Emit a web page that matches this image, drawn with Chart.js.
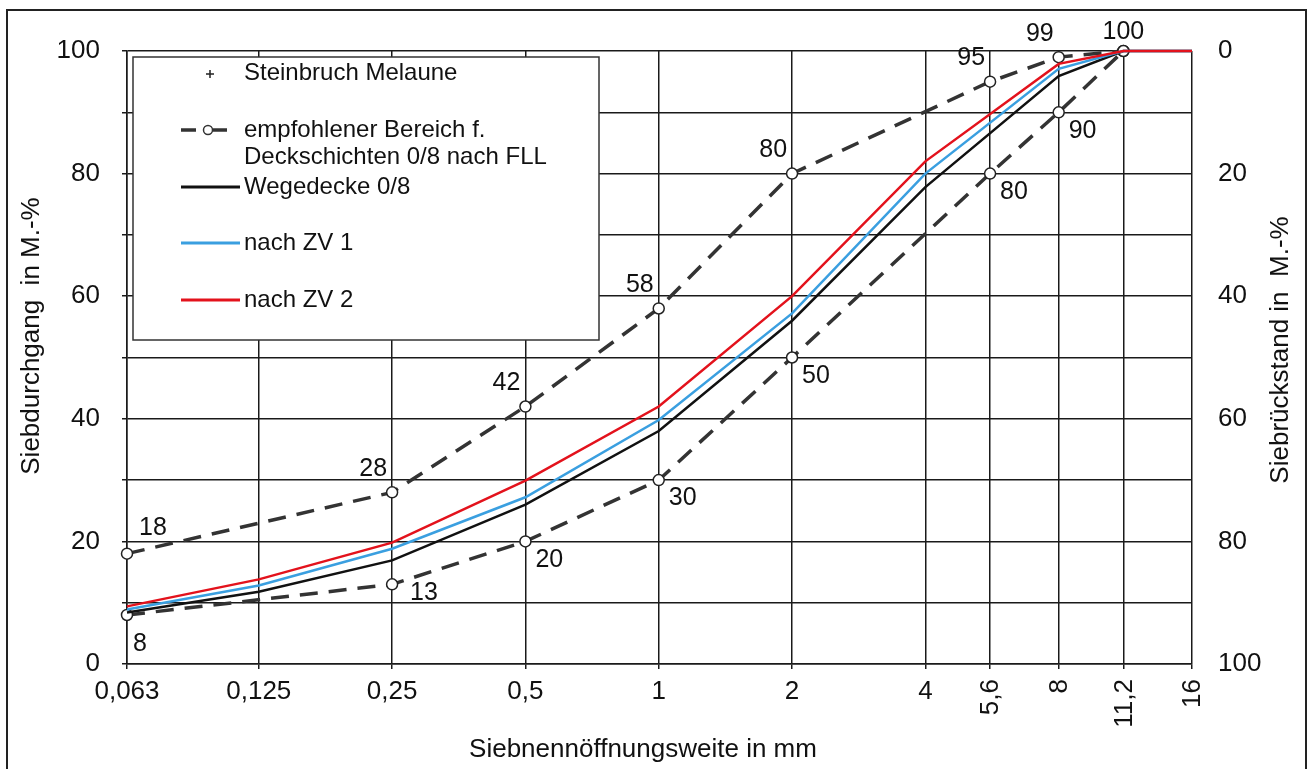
<!DOCTYPE html>
<html>
<head>
<meta charset="utf-8">
<script src="https://cdn.jsdelivr.net/npm/chart.js@4.4.0/dist/chart.umd.min.js"></script>
<style>
  html, body { margin: 0; padding: 0; background: #fff; }
  #wrap { width: 1312px; height: 769px; }
</style>
</head>
<body>
<div id="wrap"><canvas id="sieve__graph"></canvas></div>
<script>
// sieve sizes (mm) and their printed labels
const sieveSizes = [0.063, 0.125, 0.25, 0.5, 1, 2, 4, 5.6, 8, 11.2, 16];
const sieveLabels = ['0,063', '0,125', '0,25', '0,5', '1', '2', '4', '5,6', '8', '11,2', '16'];
const rotatedLabels = ['5,6', '8', '11,2', '16'];

// FLL recommended range (upper / lower limit)
const boundSizes = [0.063, 0.25, 0.5, 1, 2, 5.6, 8, 11.2];
const upperBound = [18, 28, 42, 58, 80, 95, 99, 100];
const lowerBound = [8, 13, 20, 30, 50, 80, 90, 100];

// measured grading curves
const curveSizes = [0.063, 0.125, 0.25, 0.5, 1, 2, 4, 8, 11.2, 16];
const wegedecke = [8.4, 11.8, 16.9, 26, 38, 56, 77.8, 95.9, 100, 100];
const nachZV1 = [8.9, 12.8, 18.8, 27.2, 39.8, 57.2, 80, 97.1, 100, 100];
const nachZV2 = [9.4, 13.8, 19.8, 29.9, 42, 60, 82, 97.9, 100, 100];
const steinbruch = [];

const yTicksLeft = [0, 20, 40, 60, 80, 100];

const FONT = '"Liberation Sans", Arial, sans-serif';
const pairs = (xs, ys) => ys.map((v, i) => ({ x: xs[i], y: v }));

const decor = {
    id: 'decor',
    afterDraw(chart) {
        const { ctx, chartArea: a, scales: { x, y } } = chart;
        ctx.save();

        // outer frame
        ctx.strokeStyle = '#222';
        ctx.lineWidth = 2;
        ctx.beginPath();
        ctx.moveTo(7, 769); ctx.lineTo(7, 10); ctx.lineTo(1306, 10); ctx.lineTo(1306, 769);
        ctx.stroke();

        ctx.fillStyle = '#111';

        // x tick labels, the coarse ones stand upright
        ctx.font = '26px ' + FONT;
        sieveSizes.forEach((v, i) => {
            const px = x.getPixelForValue(v);
            const lbl = sieveLabels[i];
            if (rotatedLabels.includes(lbl)) {
                ctx.save();
                ctx.translate(px, a.bottom + 15);
                ctx.rotate(-Math.PI / 2);
                ctx.textAlign = 'right';
                ctx.textBaseline = 'middle';
                ctx.fillText(lbl, 0, 1);
                ctx.restore();
            } else {
                ctx.textAlign = 'center';
                ctx.textBaseline = 'top';
                ctx.fillText(lbl, px, a.bottom + 15);
            }
        });

        // axis titles
        ctx.textAlign = 'center';
        ctx.textBaseline = 'middle';
        ctx.fillText('Siebnennöffnungsweite in mm', 643, 750);
        ctx.save();
        ctx.translate(32, 336);
        ctx.rotate(-Math.PI / 2);
        ctx.fillText('Siebdurchgang  in M.-%', 0, 0);
        ctx.restore();
        ctx.save();
        ctx.translate(1281, 350);
        ctx.rotate(-Math.PI / 2);
        ctx.fillText('Siebrückstand in  M.-%', 0, 0);
        ctx.restore();

        // values at the range markers
        ctx.font = '25px ' + FONT;
        boundSizes.forEach((v, i) => {
            const px = x.getPixelForValue(v);
            const pu = y.getPixelForValue(upperBound[i]);
            const pl = y.getPixelForValue(lowerBound[i]);
            ctx.textBaseline = 'bottom';
            if (i === 0) {
                ctx.textAlign = 'left';
                ctx.fillText(upperBound[i], px + 12, pu - 13);
            } else if (i === boundSizes.length - 1) {
                ctx.textAlign = 'center';
                ctx.fillText(upperBound[i], px, pu - 6);
            } else {
                ctx.textAlign = 'right';
                ctx.fillText(upperBound[i], px - 5, pu - 11);
            }
            if (i === boundSizes.length - 1) return;
            ctx.textAlign = 'left';
            ctx.textBaseline = 'top';
            if (i === 0) ctx.fillText(lowerBound[i], px + 6, pl + 17);
            else if (i === 1) ctx.fillText(lowerBound[i], px + 18, pl - 4);
            else ctx.fillText(lowerBound[i], px + 10, pl + 6);
        });

        // legend box
        ctx.fillStyle = '#fff';
        ctx.fillRect(133, 57, 466, 283);
        ctx.strokeStyle = '#333';
        ctx.lineWidth = 1.5;
        ctx.strokeRect(133, 57, 466, 283);

        ctx.fillStyle = '#111';
        ctx.font = '24px ' + FONT;
        ctx.textAlign = 'left';
        ctx.textBaseline = 'middle';
        const ds = chart.data.datasets;

        // + marker
        ctx.strokeStyle = '#222';
        ctx.lineWidth = 1.5;
        ctx.beginPath();
        ctx.moveTo(206, 74); ctx.lineTo(214, 74);
        ctx.moveTo(210, 70); ctx.lineTo(210, 78);
        ctx.stroke();
        ctx.fillText(ds[0].label, 244, 73);

        // dashed range symbol
        ctx.strokeStyle = '#333';
        ctx.lineWidth = 3.5;
        ctx.beginPath();
        ctx.moveTo(181, 130); ctx.lineTo(196, 130);
        ctx.moveTo(213, 130); ctx.lineTo(227, 130);
        ctx.stroke();
        ctx.lineWidth = 1.5;
        ctx.fillStyle = '#fff';
        ctx.beginPath();
        ctx.arc(208, 130, 4.5, 0, Math.PI * 2);
        ctx.fill();
        ctx.stroke();
        ctx.fillStyle = '#111';
        ctx.fillText('empfohlener Bereich f.', 244, 130);
        ctx.fillText('Deckschichten 0/8 nach FLL', 244, 157);

        [[3, 187], [4, 243], [5, 300]].forEach(([k, yy]) => {
            ctx.strokeStyle = ds[k].borderColor;
            ctx.lineWidth = 3;
            ctx.beginPath();
            ctx.moveTo(181, yy); ctx.lineTo(240, yy);
            ctx.stroke();
            ctx.fillText(ds[k].label, 244, yy);
        });

        ctx.restore();
    }
};

const rangePoint = {
    pointStyle: 'circle',
    pointRadius: 5.5,
    pointBackgroundColor: '#fff',
    pointBorderColor: '#222',
    pointBorderWidth: 1.5,
    clip: false,
};

new Chart(document.getElementById('sieve__graph'), {
    type: 'line',
    data: {
        datasets: [{
            label: 'Steinbruch Melaune',
            data: steinbruch,
            pointStyle: 'cross',
            borderColor: '#222',
            showLine: false,
        }, {
            label: 'empfohlener Bereich f. Deckschichten 0/8 nach FLL',
            data: pairs(boundSizes, upperBound),
            borderColor: '#333',
            borderWidth: 3.5,
            borderDash: [18, 11],
            order: 4,
            ...rangePoint,
        }, {
            label: 'untere Grenze',
            data: pairs(boundSizes, lowerBound),
            borderColor: '#333',
            borderWidth: 3.5,
            borderDash: [18, 11],
            order: 5,
            ...rangePoint,
        }, {
            label: 'Wegedecke 0/8',
            data: pairs(curveSizes, wegedecke),
            borderColor: '#111',
            borderWidth: 2.5,
            pointRadius: 0,
            order: 3,
            clip: false,
        }, {
            label: 'nach ZV 1',
            data: pairs(curveSizes, nachZV1),
            borderColor: '#3a9fe0',
            borderWidth: 2.5,
            pointRadius: 0,
            order: 2,
            clip: false,
        }, {
            label: 'nach ZV 2',
            data: pairs(curveSizes, nachZV2),
            borderColor: '#e3121c',
            borderWidth: 2.5,
            pointRadius: 0,
            order: 1,
            clip: false,
        }]
    },
    options: {
        responsive: true,
        maintainAspectRatio: false,
        animation: false,
        layout: { padding: { top: 51, left: 0, right: 0, bottom: 0 } },
        plugins: {
            legend: { display: false },
            title: { display: false },
            tooltip: { enabled: false }
        },
        scales: {
            x: {
                type: 'logarithmic',
                min: 0.063,
                max: 16,
                afterBuildTicks: (scale) => { scale.ticks = sieveSizes.map(v => ({ value: v })); },
                afterFit: (scale) => { scale.height = 105; },
                ticks: { display: false },
                grid: { color: '#1a1a1a', lineWidth: 1.5, tickLength: 5 },
                border: { color: '#1a1a1a', width: 1.5 }
            },
            y: {
                min: 0,
                max: 100,
                afterFit: (scale) => { scale.width = 127; },
                ticks: {
                    stepSize: 10,
                    color: '#111',
                    font: { family: FONT, size: 26 },
                    padding: 22,
                    callback: (v) => yTicksLeft.includes(v) ? String(v) : ''
                },
                grid: { color: '#1a1a1a', lineWidth: 1.5, tickLength: 5 },
                border: { color: '#1a1a1a', width: 1.5 }
            },
            y2: {
                position: 'right',
                reverse: true,
                min: 0,
                max: 100,
                afterFit: (scale) => { scale.width = 120; },
                ticks: {
                    stepSize: 20,
                    color: '#111',
                    font: { family: FONT, size: 26 },
                    padding: 26
                },
                grid: { display: false, drawTicks: false },
                border: { display: false }
            }
        }
    },
    plugins: [decor]
});
</script>
</body>
</html>
